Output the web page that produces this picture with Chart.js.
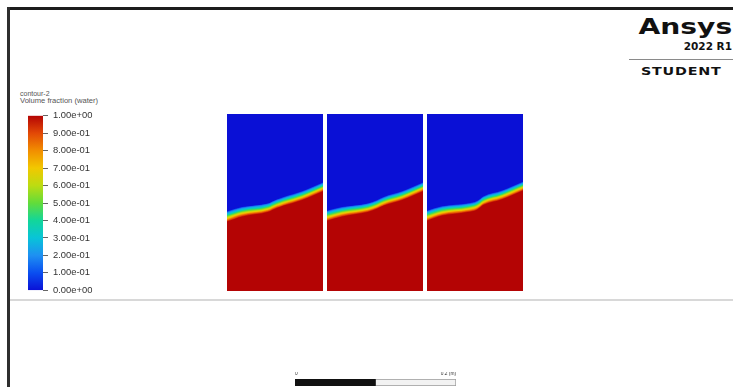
<!DOCTYPE html>
<html>
<head>
<meta charset="utf-8">
<script src="https://cdn.jsdelivr.net/npm/chart.js@4.4.1/dist/chart.umd.min.js"></script>
<style>
  html, body { margin: 0; padding: 0; background: #fff; width: 733px; height: 387px; overflow: hidden; }
  body { position: relative; font-family: "Liberation Sans", Arial, sans-serif; color: #222; }
  .abs { position: absolute; }
  #frameTop { left: 7px; top: 7px; width: 726px; height: 3px; background: #1c1c1c; }
  #frameLeft { left: 7px; top: 7px; width: 3px; height: 380px; background: #2e2e2e; }
  #divider { left: 10px; top: 299px; width: 723px; height: 2px; background: #d8d8d8; }
  #brand { right: 1px; top: 16px; font: bold 22px "DejaVu Sans", sans-serif; line-height: 22px; color: #111;
           transform: scaleX(1.28); transform-origin: right center; white-space: nowrap; }
  #release { right: 1px; top: 41px; font: bold 10.5px "DejaVu Sans", sans-serif; line-height: 11px; color: #111; white-space: nowrap; }
  #brandRule { left: 629px; top: 59px; width: 104px; height: 1px; background: #8a8a8a; }
  #edition { left: 641px; top: 66px; font: bold 11px "DejaVu Sans", sans-serif; line-height: 11px; color: #111;
             letter-spacing: 0.6px; white-space: nowrap; transform: scaleX(1.3); transform-origin: left center; }
  #legendName { left: 20px; top: 90px; font: 7px "Liberation Sans", Arial, sans-serif; line-height: 7px; color: #555; white-space: nowrap; }
  #legendQty { left: 20px; top: 97px; font: 7.6px "Liberation Sans", Arial, sans-serif; line-height: 7px; color: #555; white-space: nowrap; }
  #contourCanvasBox { left: 227px; top: 114px; width: 296px; height: 177px; }
  #colorbarBox { left: 28px; top: 105px; width: 72px; height: 196px; }
  #scaleBox { left: 293px; top: 372px; width: 165px; height: 15px; }
</style>
</head>
<body>
<div class="abs" id="frameTop"></div>
<div class="abs" id="frameLeft"></div>
<div class="abs" id="divider"></div>
<div class="abs" id="brand">Ansys</div>
<div class="abs" id="release">2022 R1</div>
<div class="abs" id="brandRule"></div>
<div class="abs" id="edition">STUDENT</div>
<div class="abs" id="legendName">contour-2</div>
<div class="abs" id="legendQty">Volume fraction (water)</div>
<div class="abs" id="contourCanvasBox"><canvas id="contour"></canvas></div>
<div class="abs" id="colorbarBox"><canvas id="colorbar"></canvas></div>
<div class="abs" id="scaleBox"><canvas id="scalebar"></canvas></div>

<script>
// Domain geometry (m)
const panelOffsets = [0, 0.125, 0.25];
const panelWidth = 0.12;
const domainHeight = 0.221;

// Free-surface (volume fraction = 0.5) height along each panel, sampled at sampleX (m)
const sampleX    = [0, 0.019, 0.051, 0.0625, 0.071, 0.094, 0.12];
const interface1 = [0.093, 0.099, 0.104, 0.109, 0.112, 0.119, 0.130];
const interface2 = [0.094, 0.099, 0.104, 0.108, 0.112, 0.119, 0.130];
const interface3 = [0.094, 0.100, 0.104, 0.107, 0.113, 0.120, 0.131];
// Thickness of the diffuse air/water transition (m)
const bandWidth  = [0.014, 0.013, 0.012, 0.012, 0.012, 0.012, 0.012];

// Volume fraction contour levels drawn inside the transition
const contourLevels = [0.05, 0.10, 0.15, 0.20, 0.25, 0.30, 0.35, 0.40, 0.45, 0.50,
                       0.55, 0.60, 0.65, 0.70, 0.75, 0.80, 0.85, 0.90, 0.95];

// Legend ticks and colour map
const legendTicks = [0, 0.1, 0.2, 0.3, 0.4, 0.5, 0.6, 0.7, 0.8, 0.9, 1.0];
const mapPositions = [0.0, 0.1, 0.2, 0.3, 0.4, 0.5, 0.6, 0.7, 0.8, 0.9, 1.0];
const mapColors = ['#0a10d6', '#0a4ef0', '#1e90f2', '#08c4d8', '#12d69a', '#62dc3a',
                   '#bcdc12', '#f2c800', '#f28e00', '#e24806', '#b40404'];

// Scale bar
const scaleSegments = [0.1, 0.1];
const scaleTicks = [0, 0.2];

function hexToRgb(h) {
  return [parseInt(h.slice(1, 3), 16), parseInt(h.slice(3, 5), 16), parseInt(h.slice(5, 7), 16)];
}
function colorAt(v) {
  v = Math.max(0, Math.min(1, v));
  for (let i = 1; i < mapPositions.length; i++) {
    if (v <= mapPositions[i]) {
      const t = (v - mapPositions[i - 1]) / (mapPositions[i] - mapPositions[i - 1]);
      const a = hexToRgb(mapColors[i - 1]), b = hexToRgb(mapColors[i]);
      const c = a.map((x, k) => Math.round(x + (b[k] - x) * t));
      return `rgb(${c[0]},${c[1]},${c[2]})`;
    }
  }
  return mapColors[mapColors.length - 1];
}

// ---- contour panels ----
const interfaces = [interface1, interface2, interface3];
const contourSets = [];
let layer = 0;
panelOffsets.forEach((off, p) => {
  // air region (fraction 0) fills the whole panel
  contourSets.push({
    data: [{ x: off, y: domainHeight }, { x: off + panelWidth, y: domainHeight }],
    backgroundColor: colorAt(0), fill: 'start', order: 1000 - layer++
  });
  // each level: region where fraction >= level
  contourLevels.forEach(c => {
    contourSets.push({
      data: sampleX.map((x, i) => ({ x: off + x, y: interfaces[p][i] + bandWidth[i] * (0.5 - c) })),
      backgroundColor: colorAt(c + 0.05), fill: 'start', order: 1000 - layer++
    });
  });
});
contourSets.forEach(d => {
  d.borderWidth = 0; d.pointRadius = 0; d.cubicInterpolationMode = 'monotone';
});

new Chart(document.getElementById('contour'), {
  type: 'line',
  data: { datasets: contourSets },
  options: {
    responsive: true, maintainAspectRatio: false, animation: false,
    events: [],
    layout: { padding: 0 },
    plugins: { legend: { display: false }, tooltip: { enabled: false } },
    scales: {
      x: { type: 'linear', min: 0, max: 0.37, display: false },
      y: { type: 'linear', min: 0, max: domainHeight, display: false }
    }
  }
});

// ---- colour bar ----
function fmtExp(v) {
  const parts = Number(v).toExponential(2).split('e');
  const exp = parts[1];
  return parts[0] + 'e' + exp[0] + exp.slice(1).padStart(2, '0');
}
new Chart(document.getElementById('colorbar'), {
  type: 'bar',
  data: {
    labels: [''],
    datasets: [{
      data: [[legendTicks[0], legendTicks[legendTicks.length - 1]]],
      barPercentage: 1, categoryPercentage: 1, borderWidth: 0,
      backgroundColor: (ctx) => {
        const area = ctx.chart.chartArea;
        if (!area) return colorAt(0.5);
        const g = ctx.chart.ctx.createLinearGradient(0, area.bottom, 0, area.top);
        mapPositions.forEach((pos, i) => g.addColorStop(pos, mapColors[i]));
        return g;
      }
    }]
  },
  options: {
    responsive: true, maintainAspectRatio: false, animation: false,
    events: [],
    layout: { padding: 0 },
    plugins: { legend: { display: false }, tooltip: { enabled: false } },
    scales: {
      x: { display: false },
      y: {
        position: 'right', min: 0, max: 1,
        afterBuildTicks: (s) => { s.ticks = legendTicks.map(v => ({ value: v })); },
        afterFit: (s) => { s.width = 57; },
        border: { display: false },
        grid: { drawOnChartArea: false, drawTicks: true, tickLength: 5, color: '#666' },
        ticks: { padding: 5, color: '#333', font: { family: 'Liberation Sans', size: 9.4 }, callback: (v) => fmtExp(v) }
      }
    }
  }
});

// ---- scale bar ----
new Chart(document.getElementById('scalebar'), {
  type: 'bar',
  data: {
    labels: [''],
    datasets: [
      { data: [scaleSegments[0]], backgroundColor: '#111', borderWidth: 0, barPercentage: 1, categoryPercentage: 1 },
      { data: [scaleSegments[1]], backgroundColor: '#f2f2f2', borderColor: '#9a9a9a', borderWidth: 1, barPercentage: 1, categoryPercentage: 1 }
    ]
  },
  options: {
    indexAxis: 'y',
    responsive: true, maintainAspectRatio: false, animation: false,
    events: [],
    layout: { padding: { bottom: 1 } },
    plugins: { legend: { display: false }, tooltip: { enabled: false } },
    scales: {
      x: {
        position: 'top', stacked: true, min: 0, max: 0.2,
        afterBuildTicks: (s) => { s.ticks = scaleTicks.map(v => ({ value: v })); },
        border: { display: false },
        grid: { display: false, drawTicks: false },
        ticks: { align: 'inner', padding: 2, color: '#333', font: { family: 'Liberation Sans', size: 4.8 },
                 callback: (v) => (v === 0 ? '0' : v + ' (m)') }
      },
      y: { stacked: true, display: false }
    }
  }
});
</script>
</body>
</html>
